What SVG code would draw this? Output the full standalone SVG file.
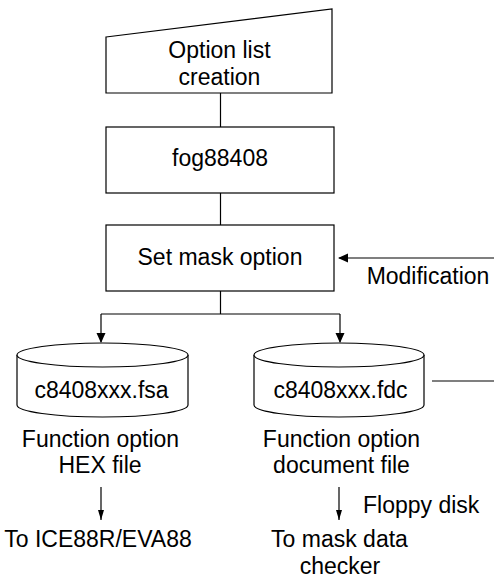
<svg xmlns="http://www.w3.org/2000/svg" width="494" height="578" viewBox="0 0 494 578">
<style>
.s{fill:#fff;stroke:#000;stroke-width:1.2}
.t{font-family:"Liberation Sans",Arial,sans-serif;font-size:23px;fill:#000;text-anchor:middle}
.l{fill:none;stroke:#000;stroke-width:1.2}
</style>
<defs>
<marker id="a" markerWidth="10" markerHeight="10" refX="9" refY="5" orient="auto" markerUnits="userSpaceOnUse"><path d="M0,0.5 L10,5 L0,9.5 Z" fill="#000"/></marker>
<marker id="b" markerWidth="10" markerHeight="8" refX="10" refY="4" orient="auto" markerUnits="userSpaceOnUse"><path d="M0,1 L10,4 L0,7 Z" fill="#000"/></marker>
</defs>
<rect width="494" height="578" fill="#fff"/>
<g id="connectors">
<path class="l" d="M220.5,93 V127"/>
<path class="l" d="M220.5,193 V225"/>
<path class="l" d="M220.5,291 V314 M101,314 H340"/>
<path class="l" d="M101,314 V342" marker-end="url(#a)"/>
<path class="l" d="M340,314 V342" marker-end="url(#a)"/>
<path class="l" d="M494,258 H339" marker-end="url(#a)"/>
<path class="l" d="M432,381 H494"/>
<path class="l" d="M101,487 V520" marker-end="url(#b)"/>
<path class="l" d="M339,487 V520" marker-end="url(#b)"/>
</g>
<g id="option-list">
<path class="s" d="M106,37 L332,9 V93 H106 Z"/>
<text class="t" x="219.5" y="58">Option list</text>
<text class="t" x="219.5" y="85">creation</text>
</g>
<g id="fog88408">
<rect class="s" x="106" y="127" width="228" height="66"/>
<text class="t" x="220" y="166">fog88408</text>
</g>
<g id="set-mask">
<rect class="s" x="106" y="225" width="228" height="66"/>
<text class="t" x="220" y="265">Set mask option</text>
</g>
<text class="t" x="428" y="284">Modification</text>
<g id="fsa">
<path class="s" d="M17,355 V405 A85.5,12 0 0 0 188,405 V355"/>
<ellipse class="s" cx="102.5" cy="355" rx="85.5" ry="12"/>
<text class="t" x="101.5" y="398">c8408xxx.fsa</text>
</g>
<g id="fdc">
<path class="s" d="M254,355 V405 A85,12 0 0 0 424,405 V355"/>
<ellipse class="s" cx="339" cy="355" rx="85" ry="12"/>
<text class="t" x="340.5" y="398">c8408xxx.fdc</text>
</g>
<g id="hex-label">
<text class="t" x="100.5" y="447">Function option</text>
<text class="t" x="100" y="473">HEX file</text>
</g>
<g id="doc-label">
<text class="t" x="341.5" y="447">Function option</text>
<text class="t" x="341.5" y="473">document file</text>
</g>
<text class="t" x="363" y="513" style="text-anchor:start">Floppy disk</text>
<text class="t" x="98" y="547">To ICE88R/EVA88</text>
<text class="t" x="339.5" y="547">To mask data</text>
<text class="t" x="340" y="574">checker</text>
</svg>
